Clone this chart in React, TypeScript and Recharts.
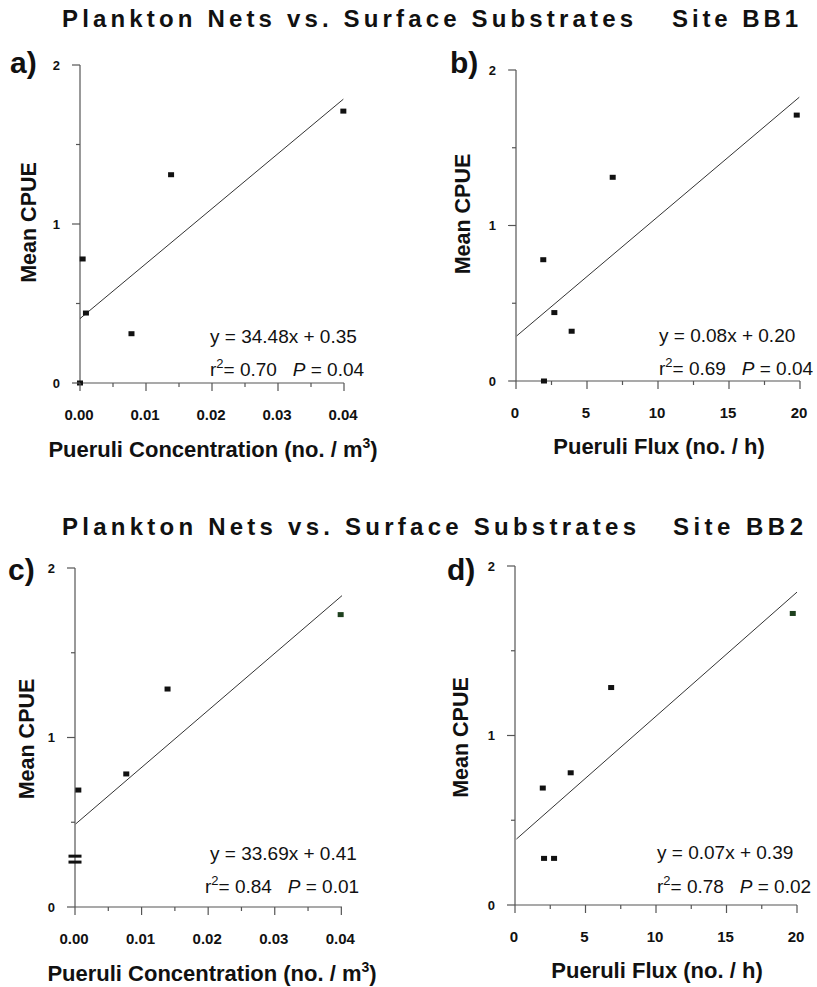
import React from 'react';
import { ScatterChart, Scatter, XAxis, YAxis } from 'recharts';

// ---------- data ----------
const concTicks = [0, 0.01, 0.02, 0.03, 0.04];
const concMinorTicks = [0.005, 0.015, 0.025, 0.035];
const fluxTicks = [0, 5, 10, 15, 20];
const fluxMinorTicks = [2.5, 7.5, 12.5, 17.5];
const cpueTicks = [0, 1, 2];
const cpueMinorTicks = [0.5, 1.5];

const bb1ConcPoints = [
  { x: 0.0, y: 0.0 },
  { x: 0.0004, y: 0.78 },
  { x: 0.0009, y: 0.44 },
  { x: 0.0078, y: 0.31 },
  { x: 0.0138, y: 1.31 },
  { x: 0.0399, y: 1.71 },
];
const bb1ConcFit = [
  { x: 0, y: 0.405 },
  { x: 0.0399, y: 1.785 },
];
const bb1FluxPoints = [
  { x: 1.97, y: 0.0 },
  { x: 1.92, y: 0.78 },
  { x: 2.7, y: 0.44 },
  { x: 3.92, y: 0.32 },
  { x: 6.81, y: 1.31 },
  { x: 19.77, y: 1.71 },
];
const bb1FluxFit = [
  { x: 0.05, y: 0.29 },
  { x: 19.95, y: 1.825 },
];
const bb2ConcPoints = [
  { x: 0.0005, y: 0.69 },
  { x: 0.0077, y: 0.785 },
  { x: 0.0139, y: 1.286 },
  { x: 0.0399, y: 1.725 },
];
const bb2ConcZeroPoints = [
  { x: 0, y: 0.3 },
  { x: 0, y: 0.265 },
];
const bb2ConcFit = [
  { x: 0.0001, y: 0.49 },
  { x: 0.0401, y: 1.837 },
];
const bb2FluxPoints = [
  { x: 1.97, y: 0.69 },
  { x: 2.06, y: 0.275 },
  { x: 2.77, y: 0.275 },
  { x: 3.95, y: 0.78 },
  { x: 6.82, y: 1.283 },
  { x: 19.7, y: 1.72 },
];
const bb2FluxFit = [
  { x: 0.1, y: 0.389 },
  { x: 20, y: 1.846 },
];

const titles = ['Plankton Nets vs. Surface Substrates', 'Site BB1', 'Site BB2'];
const panelLetters = ['a)', 'b)', 'c)', 'd)'];
const equations = ['y = 34.48x + 0.35', 'y = 0.08x + 0.20', 'y = 33.69x + 0.41', 'y = 0.07x + 0.39'];
const r2Values = ['0.70', '0.69', '0.84', '0.78'];
const pValues = ['0.04', '0.04', '0.01', '0.02'];
const yTitle = 'Mean CPUE';
const concTitle = 'Pueruli Concentration (no. / m';
const fluxTitle = 'Pueruli Flux (no. / h)';

// ---------- styles ----------
const FONT = '"Liberation Sans", Arial, Helvetica, sans-serif';
const AXIS = '#555';
const INK = '#111';
const GREEN = '#1e401e';

type Pt = { x: number; y: number };

const near = (a: number, b: number) => Math.abs(a - b) < 1e-9;

const makeXTick = (major: number[], fmt: (v: number) => string) => (props: any) => {
  const { x, y, payload } = props;
  const v = payload.value;
  const isMajor = major.some((m) => near(m, v));
  return (
    <g>
      <line x1={x} x2={x} y1={y} y2={y + (isMajor ? 8 : 4)} stroke={AXIS} strokeWidth={1.2} />
      {isMajor && (
        <text x={x - 1} y={y + 36.5} textAnchor="middle" fontSize={15} fontWeight="bold" fill={INK} fontFamily={FONT}>
          {fmt(v)}
        </text>
      )}
    </g>
  );
};

const yTick = (props: any) => {
  const { x, y, payload } = props;
  const v = payload.value;
  const isMajor = cpueTicks.some((m) => near(m, v));
  return (
    <g>
      <line x1={x - (isMajor ? 8 : 4)} x2={x} y1={y} y2={y} stroke={AXIS} strokeWidth={1.2} />
      {isMajor && (
        <text x={x - 20} y={y + 4.5} textAnchor="end" fontSize={13} fontWeight="bold" fill={INK} fontFamily={FONT}>
          {String(v)}
        </text>
      )}
    </g>
  );
};

interface PanelProps {
  L: number;
  R: number;
  T: number;
  B: number;
  xMax: number;
  xMajor: number[];
  xMinor: number[];
  xFmt: (v: number) => string;
  points: Pt[];
  fit: Pt[];
  extra?: Pt[];
  highlightX?: number;
}

function Panel(p: PanelProps) {
  const W = p.R - p.L + 120;
  const H = p.B - p.T + 80;
  const pointShape = (s: any) => {
    const hx = p.highlightX;
    const isHi = hx !== undefined && s.payload && near(s.payload.x, hx);
    return <rect x={s.cx - 3} y={s.cy - 2.5} width={6} height={5} fill={isHi ? GREEN : INK} />;
  };
  const dashShape = (s: any) => <rect x={s.cx - 6.5} y={s.cy - 1.5} width={13} height={3} fill={INK} />;
  return (
    <div style={{ position: 'absolute', left: p.L - 60, top: p.T - 20, width: W, height: H }}>
      <ScatterChart width={W} height={H} margin={{ top: 20, right: 60, bottom: 30, left: 0 }}>
        <XAxis
          type="number"
          dataKey="x"
          domain={[0, p.xMax]}
          ticks={[...p.xMajor, ...p.xMinor]}
          interval={0}
          tickSize={0}
          tickMargin={0}
          height={30}
          axisLine={{ stroke: AXIS, strokeWidth: 1.2 }}
          tickLine={false}
          tick={makeXTick(p.xMajor, p.xFmt)}
        />
        <YAxis
          type="number"
          dataKey="y"
          domain={[0, 2]}
          ticks={[...cpueTicks, ...cpueMinorTicks]}
          interval={0}
          tickSize={0}
          tickMargin={0}
          width={60}
          axisLine={{ stroke: AXIS, strokeWidth: 1.2 }}
          tickLine={false}
          tick={yTick}
        />
        <Scatter
          data={p.fit}
          fill="#333"
          line={{ stroke: '#333', strokeWidth: 1 }}
          shape={() => <g />}
          isAnimationActive={false}
        />
        <Scatter data={p.points} fill={INK} shape={pointShape} isAnimationActive={false} />
        {p.extra && <Scatter data={p.extra} fill={INK} shape={dashShape} isAnimationActive={false} />}
      </ScatterChart>
    </div>
  );
}

const concFmt = (v: number) => v.toFixed(2);
const fluxFmt = (v: number) => String(v);

function Equation({ x1, y1, x2, y2, i }: { x1: number; y1: number; x2: number; y2: number; i: number }) {
  return (
    <g fontFamily={FONT} fontSize={19} fill={INK}>
      <text x={x1} y={y1}>{equations[i]}</text>
      <text x={x2} y={y2} style={{ whiteSpace: 'pre' }}>
        r
        <tspan fontSize={13} dy={-8}>2</tspan>
        <tspan dy={8}>{'= ' + r2Values[i] + '   '}</tspan>
        <tspan fontStyle="italic">P</tspan>
        <tspan>{' = ' + pValues[i]}</tspan>
      </text>
    </g>
  );
}

function YTitle({ cx, cy }: { cx: number; cy: number }) {
  const bx = cx + 7.7;
  return (
    <text
      x={bx}
      y={cy}
      transform={`rotate(-90, ${bx}, ${cy})`}
      textAnchor="middle"
      fontFamily={FONT}
      fontSize={21.5}
      fontWeight="bold"
      fill={INK}
    >
      {yTitle}
    </text>
  );
}

function ConcTitle({ cx, y }: { cx: number; y: number }) {
  return (
    <text x={cx} y={y} textAnchor="middle" fontFamily={FONT} fontSize={22} fontWeight="bold" fill={INK}>
      {concTitle}
      <tspan fontSize={14} dy={-9}>3</tspan>
      <tspan dy={9}>)</tspan>
    </text>
  );
}

function FluxTitle({ cx, y }: { cx: number; y: number }) {
  return (
    <text x={cx} y={y} textAnchor="middle" fontFamily={FONT} fontSize={22} fontWeight="bold" fill={INK}>
      {fluxTitle}
    </text>
  );
}

export default function App() {
  return (
    <div style={{ position: 'absolute', left: 0, top: 0, width: 817, height: 987, background: '#fff', overflow: 'hidden' }}>
      <Panel L={80} R={344} T={65} B={383} xMax={0.04} xMajor={concTicks} xMinor={concMinorTicks} xFmt={concFmt} points={bb1ConcPoints} fit={bb1ConcFit} />
      <Panel L={516} R={800} T={70} B={381} xMax={20} xMajor={fluxTicks} xMinor={fluxMinorTicks} xFmt={fluxFmt} points={bb1FluxPoints} fit={bb1FluxFit} />
      <Panel L={75} R={342} T={568} B={907} xMax={0.04} xMajor={concTicks} xMinor={concMinorTicks} xFmt={concFmt} points={bb2ConcPoints} fit={bb2ConcFit} extra={bb2ConcZeroPoints} highlightX={0.0399} />
      <Panel L={515} R={797} T={566} B={905} xMax={20} xMajor={fluxTicks} xMinor={fluxMinorTicks} xFmt={fluxFmt} points={bb2FluxPoints} fit={bb2FluxFit} highlightX={19.7} />

      <svg width={817} height={987} style={{ position: 'absolute', left: 0, top: 0, pointerEvents: 'none' }}>
        <g fontFamily={FONT} fontWeight="bold" fontSize={24} fill={INK}>
          <text x={62} y={27} textLength={571} lengthAdjust="spacing">{titles[0]}</text>
          <text x={672} y={27} textLength={126} lengthAdjust="spacing">{titles[1]}</text>
          <text x={62} y={535} textLength={574} lengthAdjust="spacing">{titles[0]}</text>
          <text x={673} y={535} textLength={130} lengthAdjust="spacing">{titles[2]}</text>
        </g>
        <g fontFamily={FONT} fontWeight="bold" fontSize={30} fill={INK}>
          <text x={10} y={73}>{panelLetters[0]}</text>
          <text x={450} y={73}>{panelLetters[1]}</text>
          <text x={8} y={580}>{panelLetters[2]}</text>
          <text x={447} y={580}>{panelLetters[3]}</text>
        </g>
        <YTitle cx={28} cy={222.5} />
        <YTitle cx={462} cy={214} />
        <YTitle cx={26} cy={739} />
        <YTitle cx={460} cy={737.5} />
        <ConcTitle cx={213} y={457} />
        <FluxTitle cx={659} y={454} />
        <ConcTitle cx={212} y={981} />
        <FluxTitle cx={657} y={978} />
        <Equation i={0} x1={210} y1={343} x2={210} y2={376} />
        <Equation i={1} x1={659} y1={342} x2={659} y2={375} />
        <Equation i={2} x1={210} y1={860} x2={205} y2={893} />
        <Equation i={3} x1={657} y1={859} x2={657} y2={893} />
      </svg>
    </div>
  );
}
